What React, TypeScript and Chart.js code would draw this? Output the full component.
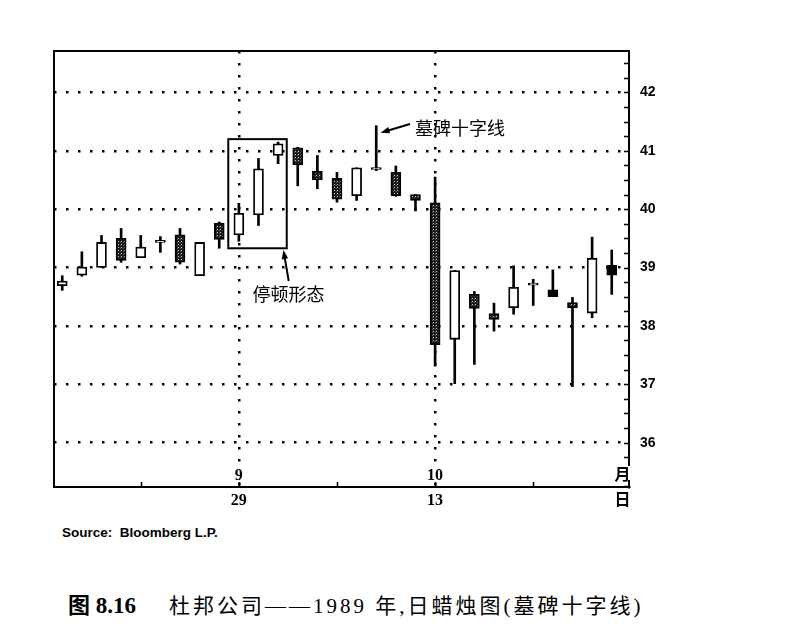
import React, { useEffect, useRef } from 'react';
import { Chart, registerables } from 'chart.js';

Chart.register(...registerables);

// ---- data (trading-day index, OHLC) ----
const DAY_INDEX = [0, 1, 2, 3, 4, 5, 6, 7, 8, 9, 10, 11, 12, 13, 14, 15, 16, 17, 18, 19, 20, 21, 22, 23, 24, 25, 26, 27, 28];
const OPEN = [38.69, 38.87, 39.00, 39.50, 39.17, 39.43, 39.56, 38.86, 39.76, 39.56, 39.90, 40.92, 41.05, 40.65, 40.53, 40.23, 40.68, 40.63, 40.25, 40.11, 37.77, 38.54, 38.21, 38.31, 38.70, 38.62, 38.40, 38.22, 39.04];
const HIGH = [38.86, 39.27, 39.55, 39.67, 39.55, 39.53, 39.67, 39.43, 39.78, 40.10, 40.87, 41.15, 41.06, 40.92, 40.63, 40.71, 41.43, 40.74, 40.25, 40.55, 38.95, 38.59, 38.39, 39.03, 38.80, 38.96, 38.49, 39.52, 39.30];
const LOW = [38.61, 38.85, 39.00, 39.09, 39.17, 39.26, 39.06, 38.86, 39.33, 39.45, 39.72, 40.78, 40.40, 40.35, 40.12, 40.15, 40.66, 40.22, 39.97, 37.31, 37.01, 37.34, 37.91, 38.20, 38.35, 38.50, 36.96, 38.14, 38.54];
const CLOSE = [38.77, 39.01, 39.43, 39.12, 39.35, 39.43, 39.09, 39.43, 39.48, 39.93, 40.69, 41.12, 40.76, 40.50, 40.17, 40.71, 40.68, 40.23, 40.15, 37.68, 38.95, 38.30, 38.11, 38.66, 38.70, 38.50, 38.31, 39.16, 38.87];

const DATE_TICKS = [4, 9, 14, 19, 24, 28.55];
const DAY_LABELS = ['', '29', '', '13', '', '日'];
const MONTH_LABELS = ['', '9', '', '10', '', '月'];
const GRID_DATES = [9, 19];
const PRICE_LABELS = [36, 37, 38, 39, 40, 41, 42];
const PRICE_MIN = 35.24;
const PRICE_MAX = 42.71;
const MINOR_STEP = 0.25;

// ---- annotations (in data units) ----
const PAUSE_BOX = { from: 8.46, to: 11.44, low: 39.33, high: 41.2 };
const PAUSE_TEXT = { text: '停顿形态', x: 11.53, y: 38.55 };
const PAUSE_ARROW = { x0: 11.54, y0: 38.77, x1: 11.27, y1: 39.3 };
const DOJI_TEXT = { text: '墓碑十字线', x: 17.98, y: 41.39 };
const DOJI_ARROW = { x0: 17.72, y0: 41.46, x1: 16.22, y1: 41.31 };

const SOLID_BODIES = [25, 28];

function drawArrow(ctx: CanvasRenderingContext2D, x0: number, y0: number, x1: number, y1: number) {
  const ang = Math.atan2(y1 - y0, x1 - x0);
  const len = 9;
  const half = 3.2;
  ctx.beginPath();
  ctx.moveTo(x0, y0);
  ctx.lineTo(x1 - Math.cos(ang) * len * 0.6, y1 - Math.sin(ang) * len * 0.6);
  ctx.stroke();
  ctx.beginPath();
  ctx.moveTo(x1, y1);
  ctx.lineTo(x1 - Math.cos(ang) * len - Math.sin(ang) * half, y1 - Math.sin(ang) * len + Math.cos(ang) * half);
  ctx.lineTo(x1 - Math.cos(ang) * len + Math.sin(ang) * half, y1 - Math.sin(ang) * len - Math.cos(ang) * half);
  ctx.closePath();
  ctx.fill();
}

const annotationPlugin = {
  id: 'annotations',
  afterDraw(chart: any) {
    const { ctx, chartArea: a, scales } = chart;
    const x = scales.x;
    const y = scales.y;
    ctx.save();
    ctx.strokeStyle = '#000';
    ctx.fillStyle = '#000';
    ctx.lineWidth = 2;
    ctx.strokeRect(a.left, a.top, a.right - a.left, a.bottom - a.top);

    // inward tick marks on the price axis
    ctx.lineWidth = 1.6;
    ctx.beginPath();
    y.ticks.forEach((t: any) => {
      const py = Math.round(y.getPixelForValue(t.value)) + 0.5;
      ctx.moveTo(a.right, py);
      ctx.lineTo(a.right - 5, py);
    });
    // inward tick marks on the date axis
    DATE_TICKS.forEach((t, i) => {
      if (DAY_LABELS[i] === '日') return;
      const px = Math.round(x.getPixelForValue(t)) + 0.5;
      ctx.moveTo(px, a.bottom);
      ctx.lineTo(px, a.bottom - 5);
    });
    ctx.stroke();

    // pause-pattern box
    ctx.lineWidth = 2;
    const bx0 = x.getPixelForValue(PAUSE_BOX.from);
    const bx1 = x.getPixelForValue(PAUSE_BOX.to);
    const by0 = y.getPixelForValue(PAUSE_BOX.high);
    const by1 = y.getPixelForValue(PAUSE_BOX.low);
    ctx.strokeRect(bx0, by0, bx1 - bx0, by1 - by0);

    drawArrow(ctx, x.getPixelForValue(PAUSE_ARROW.x0), y.getPixelForValue(PAUSE_ARROW.y0), x.getPixelForValue(PAUSE_ARROW.x1), y.getPixelForValue(PAUSE_ARROW.y1));
    drawArrow(ctx, x.getPixelForValue(DOJI_ARROW.x0), y.getPixelForValue(DOJI_ARROW.y0), x.getPixelForValue(DOJI_ARROW.x1), y.getPixelForValue(DOJI_ARROW.y1));

    ctx.font = '18px "Noto Sans CJK SC"';
    ctx.textBaseline = 'middle';
    ctx.textAlign = 'center';
    ctx.fillText(PAUSE_TEXT.text, x.getPixelForValue(PAUSE_TEXT.x), y.getPixelForValue(PAUSE_TEXT.y));
    ctx.textAlign = 'left';
    ctx.fillText(DOJI_TEXT.text, x.getPixelForValue(DOJI_TEXT.x), y.getPixelForValue(DOJI_TEXT.y));

    // month labels above the date axis
    ctx.font = 'bold 16px "Liberation Serif", "Noto Sans CJK SC"';
    ctx.textAlign = 'center';
    DATE_TICKS.forEach((t, i) => {
      const label = MONTH_LABELS[i];
      if (!label) return;
      const px = x.getPixelForValue(t);
      const w = ctx.measureText(label).width;
      ctx.fillStyle = '#fff';
      ctx.fillRect(px - w / 2 - 2, a.bottom - 21, w + 4, 14);
      ctx.fillStyle = '#000';
      ctx.fillText(label, px, a.bottom - 11);
    });
    ctx.restore();
  },
};

export default function App() {
  const canvasRef = useRef<HTMLCanvasElement | null>(null);

  useEffect(() => {
    const canvas = canvasRef.current;
    if (!canvas) return;
    const ctx2d = canvas.getContext('2d')!;
    const pc = document.createElement('canvas');
    pc.width = 3;
    pc.height = 3;
    const pctx = pc.getContext('2d')!;
    pctx.fillStyle = '#1a1a1a';
    pctx.fillRect(0, 0, 3, 3);
    pctx.fillStyle = '#d0d0d0';
    pctx.fillRect(1, 1, 1, 1);
    pctx.fillStyle = '#5a5a5a';
    pctx.fillRect(0, 2, 1, 1);
    const pattern = ctx2d.createPattern(pc, 'repeat');

    const bodies = DAY_INDEX.map((d, i) => ({ x: d, y: [OPEN[i], CLOSE[i]] }));
    const wicks = DAY_INDEX.map((d, i) => ({ x: d, y: [LOW[i], HIGH[i]] }));

    const minorTicks: number[] = [];
    for (let v = 35.25; v <= PRICE_MAX + 1e-9; v += MINOR_STEP) minorTicks.push(Math.round(v * 100) / 100);

    const chart = new Chart(canvas, {
      type: 'bar',
      data: {
        datasets: [
          {
            data: bodies as any,
            grouped: false,
            barThickness: 10,
            minBarLength: 2,
            borderSkipped: false,
            borderWidth: 1.8,
            borderColor: '#000',
            backgroundColor: (c: any) => {
              const i = c.dataIndex;
              if (i === undefined) return '#fff';
              if (CLOSE[i] >= OPEN[i]) return '#fff';
              if (SOLID_BODIES.includes(i)) return '#000';
              return pattern as any;
            },
          } as any,
          {
            data: wicks as any,
            grouped: false,
            barThickness: 2,
            borderWidth: 0,
            backgroundColor: '#000',
          } as any,
        ],
      },
      options: {
        responsive: false,
        animation: false,
        events: [],
        layout: { padding: { left: 54, top: 51, right: 787 - 629 - 40, bottom: 520 - 487 - 30 } },
        plugins: { legend: { display: false }, tooltip: { enabled: false } },
        scales: {
          x: {
            type: 'linear',
            position: 'bottom',
            min: -0.42,
            max: 28.88,
            offset: false,
            afterBuildTicks: (s: any) => {
              s.ticks = DATE_TICKS.map((v) => ({ value: v }));
            },
            afterFit: (s: any) => {
              s.height = 30;
            },
            ticks: {
              autoSkip: false,
              maxRotation: 0,
              padding: 4,
              color: '#000',
              font: { family: '"Liberation Serif", "Noto Sans CJK SC"', size: 16, weight: 'bold' },
              callback: (_v: any, i: number) => DAY_LABELS[i] ?? '',
            },
            grid: {
              offset: false,
              lineWidth: 2.5,
              drawTicks: false,
              color: (c: any) => (c.tick && GRID_DATES.includes(c.tick.value) ? '#000' : 'rgba(0,0,0,0)'),
            },
            border: { display: true, color: '#000', width: 2, dash: [2.5, 9.5] },
          } as any,
          y: {
            type: 'linear',
            position: 'right',
            min: PRICE_MIN,
            max: PRICE_MAX,
            afterBuildTicks: (s: any) => {
              s.ticks = minorTicks.map((v) => ({ value: v }));
            },
            afterFit: (s: any) => {
              s.width = 40;
            },
            ticks: {
              autoSkip: false,
              padding: 11,
              color: '#000',
              font: { family: '"Liberation Sans", Arial, sans-serif', size: 14, weight: 'bold' },
              callback: (v: any) => (PRICE_LABELS.includes(Number(v)) ? String(v) : ''),
            },
            grid: {
              lineWidth: 2.5,
              drawTicks: false,
              color: (c: any) => (c.tick && PRICE_LABELS.includes(c.tick.value) ? '#000' : 'rgba(0,0,0,0)'),
            },
            border: { display: true, color: '#000', width: 2, dash: [2.5, 9.5] },
          } as any,
        },
      },
      plugins: [annotationPlugin as any],
    });
    return () => chart.destroy();
  }, []);

  return (
    <div style={{ position: 'fixed', left: 0, top: 0, width: 787, height: 630, background: '#fff', overflow: 'hidden' }}>
      <canvas ref={canvasRef} width={787} height={520} style={{ position: 'absolute', left: 0, top: 0, width: 787, height: 520 }} />
      <div
        style={{
          position: 'absolute',
          left: 62,
          top: 525,
          fontFamily: '"Liberation Sans", Arial, sans-serif',
          fontWeight: 'bold',
          fontSize: 13.5,
          color: '#000',
          whiteSpace: 'pre',
        }}
      >
        {'Source:  Bloomberg L.P.'}
      </div>
      <div
        style={{
          position: 'absolute',
          left: 68,
          top: 589,
          fontFamily: '"Liberation Serif", "Noto Sans CJK SC", serif',
          fontSize: 21,
          color: '#000',
          whiteSpace: 'pre',
          lineHeight: '28px',
        }}
      >
        <span style={{ fontWeight: 'bold', fontFamily: '"Noto Sans CJK SC", sans-serif', fontSize: 22 }}>图</span>
        <span style={{ fontWeight: 'bold', fontSize: 23 }}> 8.16</span>
        <span style={{ letterSpacing: '3px' }}>{'    杜邦公司——1989 年,日蜡烛图(墓碑十字线)'}</span>
      </div>
    </div>
  );
}
